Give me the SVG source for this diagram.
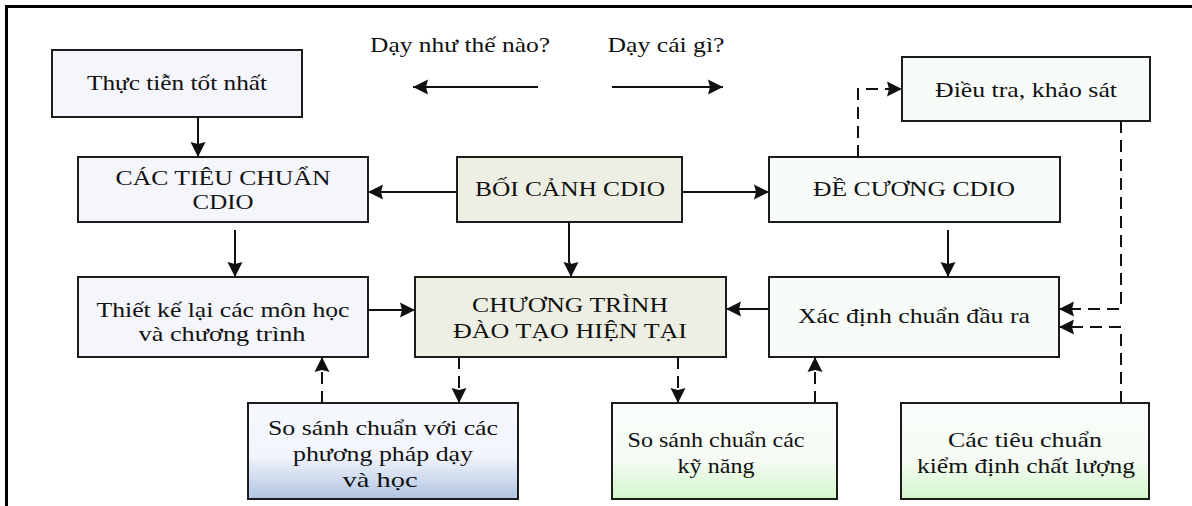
<svg xmlns="http://www.w3.org/2000/svg" width="1192" height="506" viewBox="0 0 1192 506">
  <style>
    .box { stroke: #1c1c1c; stroke-width: 2; }
    .blue { fill: #f4f6fc; }
    .olive { fill: #eeefe4; }
    .mint { fill: #f8fcf8; }
    .lbl { font-family: "Liberation Serif", "Times New Roman", serif; font-size: 22px; fill: #111; text-anchor: middle; }
    .solid { fill: none; stroke: #111; stroke-width: 2; }
    .dash { fill: none; stroke: #111; stroke-width: 2; stroke-dasharray: 12 7; }
  </style>
  <defs>
    <marker id="arr" markerUnits="userSpaceOnUse" markerWidth="18" markerHeight="18" refX="15" refY="8" orient="auto">
      <path d="M0,0.5 L15,8 L0,15.5 L2,8 z" fill="#111"/>
    </marker>
    <linearGradient id="gBlue" x1="0" y1="0" x2="0" y2="1">
      <stop offset="0" stop-color="#f6f8fe"/>
      <stop offset="0.55" stop-color="#f2f5fc"/>
      <stop offset="1" stop-color="#b0c3e1"/>
    </linearGradient>
    <linearGradient id="gGreen" x1="0" y1="0" x2="0" y2="1">
      <stop offset="0" stop-color="#fafdfa"/>
      <stop offset="0.6" stop-color="#f5fbf4"/>
      <stop offset="1" stop-color="#d2f6ca"/>
    </linearGradient>
  </defs>

  <rect width="1192" height="506" fill="#ffffff"/>
  <!-- frame: top and left edges -->
  <path d="M6.5,506 V6.5 H1192" fill="none" stroke="#000" stroke-width="3"/>

  <!-- direction hints -->
  <g id="hint-how">
    <text class="lbl" x="460" y="52" textLength="180" lengthAdjust="spacingAndGlyphs">Dạy như thế nào?</text>
  </g>
  <g id="hint-what">
    <text class="lbl" x="666" y="52" textLength="117" lengthAdjust="spacingAndGlyphs">Dạy cái gì?</text>
  </g>

  <g id="best-practice">
    <rect class="box blue" x="52" y="50" width="250" height="67"/>
    <text class="lbl" x="177" y="90" textLength="180" lengthAdjust="spacingAndGlyphs">Thực tiễn tốt nhất</text>
  </g>
  <g id="cdio-standards">
    <rect class="box blue" x="78" y="157" width="290" height="65"/>
    <text class="lbl" x="223" y="185" textLength="215" lengthAdjust="spacingAndGlyphs">CÁC TIÊU CHUẨN</text>
    <text class="lbl" x="223" y="209" textLength="61" lengthAdjust="spacingAndGlyphs">CDIO</text>
  </g>
  <g id="cdio-context">
    <rect class="box olive" x="457" y="157" width="225" height="65"/>
    <text class="lbl" x="570" y="196" textLength="190" lengthAdjust="spacingAndGlyphs">BỐI CẢNH CDIO</text>
  </g>
  <g id="cdio-syllabus">
    <rect class="box mint" x="769" y="157" width="291" height="65"/>
    <text class="lbl" x="914" y="196" textLength="202" lengthAdjust="spacingAndGlyphs">ĐỀ CƯƠNG CDIO</text>
  </g>
  <g id="survey">
    <rect class="box mint" x="902" y="57" width="248" height="64"/>
    <text class="lbl" x="1026" y="97" textLength="182" lengthAdjust="spacingAndGlyphs">Điều tra, khảo sát</text>
  </g>
  <g id="redesign">
    <rect class="box blue" x="78" y="277" width="290" height="80"/>
    <text class="lbl" x="223" y="317" textLength="253" lengthAdjust="spacingAndGlyphs">Thiết kế lại các môn học</text>
    <text class="lbl" x="222" y="341" textLength="167" lengthAdjust="spacingAndGlyphs">và chương trình</text>
  </g>
  <g id="current-program">
    <rect class="box olive" x="415" y="277" width="311" height="80"/>
    <text class="lbl" x="570" y="312" textLength="196" lengthAdjust="spacingAndGlyphs">CHƯƠNG TRÌNH</text>
    <text class="lbl" x="570" y="338" textLength="234" lengthAdjust="spacingAndGlyphs">ĐÀO TẠO HIỆN TẠI</text>
  </g>
  <g id="outcomes">
    <rect class="box mint" x="769" y="277" width="290" height="80"/>
    <text class="lbl" x="914" y="323" textLength="232" lengthAdjust="spacingAndGlyphs">Xác định chuẩn đầu ra</text>
  </g>
  <g id="bench-methods">
    <rect class="box" fill="url(#gBlue)" x="248" y="403" width="270" height="96"/>
    <text class="lbl" x="383" y="435" textLength="230" lengthAdjust="spacingAndGlyphs">So sánh chuẩn với các</text>
    <text class="lbl" x="383" y="461" textLength="180" lengthAdjust="spacingAndGlyphs">phương pháp dạy</text>
    <text class="lbl" x="380" y="487" textLength="75" lengthAdjust="spacingAndGlyphs">và học</text>
  </g>
  <g id="bench-skills">
    <rect class="box" fill="url(#gGreen)" x="612" y="403" width="225" height="96"/>
    <text class="lbl" x="716" y="447" textLength="177" lengthAdjust="spacingAndGlyphs">So sánh chuẩn các</text>
    <text class="lbl" x="716" y="473" textLength="77" lengthAdjust="spacingAndGlyphs">kỹ năng</text>
  </g>
  <g id="quality-standards">
    <rect class="box" fill="url(#gGreen)" x="901" y="403" width="248" height="96"/>
    <text class="lbl" x="1025" y="447" textLength="154" lengthAdjust="spacingAndGlyphs">Các tiêu chuẩn</text>
    <text class="lbl" x="1026" y="473" textLength="218" lengthAdjust="spacingAndGlyphs">kiểm định chất lượng</text>
  </g>

  <g id="connectors">
    <path class="solid" d="M538,87 H413" marker-end="url(#arr)"/>
    <path class="solid" d="M612,87 H723" marker-end="url(#arr)"/>
    <path class="solid" d="M198,117 V157" marker-end="url(#arr)"/>
    <path class="solid" d="M457,192 H368" marker-end="url(#arr)"/>
    <path class="solid" d="M682,192 H769" marker-end="url(#arr)"/>
    <path class="solid" d="M235,230 V277" marker-end="url(#arr)"/>
    <path class="solid" d="M569,222 V262 L571,266 V277" marker-end="url(#arr)"/>
    <path class="solid" d="M948,230 V277" marker-end="url(#arr)"/>
    <path class="solid" d="M368,310 H415" marker-end="url(#arr)"/>
    <path class="solid" d="M769,309 H726" marker-end="url(#arr)"/>

    <path class="dash" d="M858,157 V89 H902" marker-end="url(#arr)"/>
    <path class="dash" d="M1121,121 V309 H1059" marker-end="url(#arr)"/>
    <path class="dash" d="M1121,403 V327 H1059" marker-end="url(#arr)"/>
    <path class="dash" d="M459,357 V403" marker-end="url(#arr)"/>
    <path class="dash" d="M678,357 V403" marker-end="url(#arr)"/>
    <path class="dash" d="M322,403 V357" marker-end="url(#arr)"/>
    <path class="dash" d="M815,403 V357" marker-end="url(#arr)"/>
  </g>
</svg>
